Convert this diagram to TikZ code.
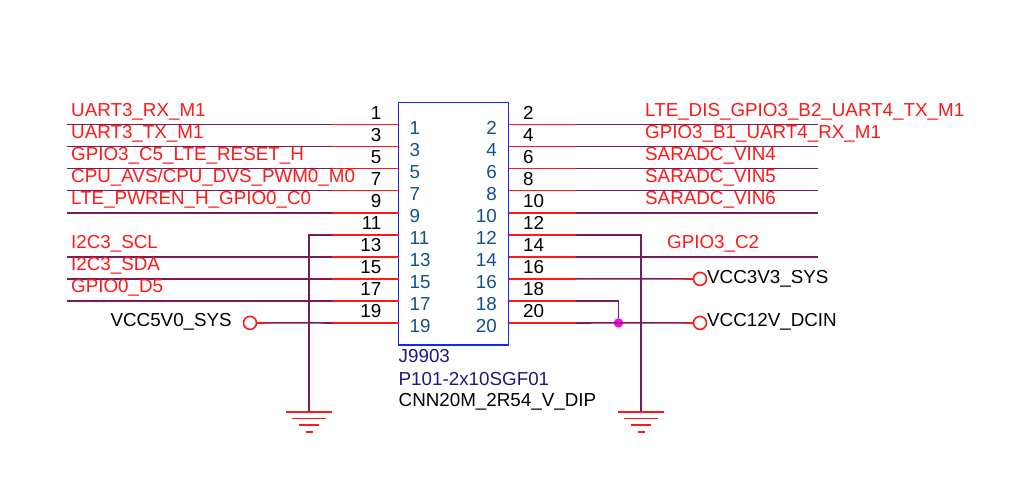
\documentclass[tikz,border=0pt]{standalone}
\usepackage{fontspec}
\setmainfont{Liberation Sans}
\usepackage{tikz}
\definecolor{pinred}{HTML}{FF1818}
\definecolor{netpurple}{HTML}{7A1A5A}
\definecolor{boxblue}{HTML}{1028F8}
\definecolor{numblue}{HTML}{10508C}
\definecolor{refblue}{HTML}{1A1A80}
\definecolor{dotmagenta}{HTML}{FF00F0}
\tikzstyle{connbox} = [rectangle, draw=boxblue, line width=1.6pt, minimum width=110pt, minimum height=242.5pt, inner sep=0pt]
\tikzstyle{pinwire} = [draw=pinred, line width=1.6pt]
\tikzstyle{netwire} = [draw=netpurple, line width=1.6pt]
\tikzstyle{txt} = [inner sep=0pt, font=\fontsize{18.8pt}{20pt}\selectfont]
\tikzstyle{netleft} = [txt, text=pinred, anchor=base west, xshift=4.5pt, yshift=8.3pt]
\tikzstyle{netright} = [txt, text=pinred, anchor=base west, xshift=-173pt, yshift=8.3pt]
\tikzstyle{outleft} = [txt, anchor=base east, xshift=-17pt, yshift=5.3pt]
\tikzstyle{outright} = [txt, anchor=base west, xshift=14.5pt, yshift=5.3pt]
\tikzstyle{inleft} = [txt, text=numblue, anchor=base west, xshift=11pt, yshift=-10pt]
\tikzstyle{inright} = [txt, text=numblue, anchor=base east, xshift=-11.5pt, yshift=-10pt]
\tikzstyle{midleft} = [xshift=-66.5pt]
\tikzstyle{farleft} = [xshift=-332pt]
\tikzstyle{midright} = [xshift=67.5pt]
\tikzstyle{farright} = [xshift=309.5pt]
\tikzstyle{opencircle} = [circle, draw=pinred, line width=1.6pt, minimum size=13pt, inner sep=0pt]
\tikzstyle{junction} = [circle, fill=dotmagenta, minimum size=9.5pt, inner sep=0pt]
\begin{document}
\begin{tikzpicture}[x=1pt, y=-1pt, node distance=22.05pt]
    \useasboundingbox (0,0) rectangle (1020,488);
    \node (conn) [connbox] at (453.5,223.75) {};
    % left pins
    \coordinate (pin1) at (398.5,124.5);
    \coordinate [below of = pin1] (pin3);
    \coordinate [below of = pin3] (pin5);
    \coordinate [below of = pin5] (pin7);
    \coordinate [below of = pin7] (pin9);
    \coordinate [below of = pin9] (pin11);
    \coordinate [below of = pin11] (pin13);
    \coordinate [below of = pin13] (pin15);
    \coordinate [below of = pin15] (pin17);
    \coordinate [below of = pin17] (pin19);
    % right pins
    \coordinate (pin2) at (508.5,124.5);
    \coordinate [below of = pin2] (pin4);
    \coordinate [below of = pin4] (pin6);
    \coordinate [below of = pin6] (pin8);
    \coordinate [below of = pin8] (pin10);
    \coordinate [below of = pin10] (pin12);
    \coordinate [below of = pin12] (pin14);
    \coordinate [below of = pin14] (pin16);
    \coordinate [below of = pin16] (pin18);
    \coordinate [below of = pin18] (pin20);
    % wire break points
    \coordinate [midleft] (mid1) at (pin1);
    \coordinate [midleft] (mid3) at (pin3);
    \coordinate [midleft] (mid5) at (pin5);
    \coordinate [midleft] (mid7) at (pin7);
    \coordinate [midleft] (mid9) at (pin9);
    \coordinate [midleft] (mid11) at (pin11);
    \coordinate [midleft] (mid13) at (pin13);
    \coordinate [midleft] (mid15) at (pin15);
    \coordinate [midleft] (mid17) at (pin17);
    \coordinate [midleft] (mid19) at (pin19);
    \coordinate [midright] (mid2) at (pin2);
    \coordinate [midright] (mid4) at (pin4);
    \coordinate [midright] (mid6) at (pin6);
    \coordinate [midright] (mid8) at (pin8);
    \coordinate [midright] (mid10) at (pin10);
    \coordinate [midright] (mid12) at (pin12);
    \coordinate [midright] (mid14) at (pin14);
    \coordinate [midright] (mid16) at (pin16);
    \coordinate [midright] (mid18) at (pin18);
    \coordinate [midright] (mid20) at (pin20);
    \coordinate [farleft] (far1) at (pin1);
    \coordinate [farleft] (far3) at (pin3);
    \coordinate [farleft] (far5) at (pin5);
    \coordinate [farleft] (far7) at (pin7);
    \coordinate [farleft] (far9) at (pin9);
    \coordinate [farleft] (far13) at (pin13);
    \coordinate [farleft] (far15) at (pin15);
    \coordinate [farleft] (far17) at (pin17);
    \coordinate [farright] (far2) at (pin2);
    \coordinate [farright] (far4) at (pin4);
    \coordinate [farright] (far6) at (pin6);
    \coordinate [farright] (far8) at (pin8);
    \coordinate [farright] (far10) at (pin10);
    \coordinate [farright] (far14) at (pin14);
    % power and ground
    \node (vcc5) [opencircle] at (250,322.9) {};
    \node (vcc3) [opencircle] at (700,278.9) {};
    \node (vcc12) [opencircle] at (700,322.9) {};
    \node (dot) [junction, xshift=110pt] at (pin20) {};
    \coordinate (stub5) at (267,322.9);
    \coordinate (stub3) at (685,278.9);
    \coordinate (stub12) at (685,322.9);
    \coordinate (gndleft) at (309,412);
    \coordinate (gndright) at (641,412);
    % purple nets
    \draw [netwire] (mid1) -- (far1);
    \draw [netwire] (mid3) -- (far3);
    \draw [netwire] (mid5) -- (far5);
    \draw [netwire] (mid7) -- (far7);
    \draw [netwire] (mid9) -- (far9);
    \draw [netwire] (mid13) -- (far13);
    \draw [netwire] (mid15) -- (far15);
    \draw [netwire] (mid17) -- (far17);
    \draw [netwire] (mid19) -- (stub5);
    \draw [netwire] (mid11) -| (gndleft);
    \draw [netwire] (mid2) -- (far2);
    \draw [netwire] (mid4) -- (far4);
    \draw [netwire] (mid6) -- (far6);
    \draw [netwire] (mid8) -- (far8);
    \draw [netwire] (mid10) -- (far10);
    \draw [netwire] (mid14) -- (far14);
    \draw [netwire] (mid16) -- (stub3);
    \draw [netwire] (mid20) -- (stub12);
    \draw [netwire] (mid12) -| (gndright);
    \draw [netwire] (mid18) -| (dot);
    % red pin stubs
    \draw [pinwire] (pin1) -- (mid1);
    \draw [pinwire] (pin3) -- (mid3);
    \draw [pinwire] (pin5) -- (mid5);
    \draw [pinwire] (pin7) -- (mid7);
    \draw [pinwire] (pin9) -- (mid9);
    \draw [pinwire] (pin11) -- (mid11);
    \draw [pinwire] (pin13) -- (mid13);
    \draw [pinwire] (pin15) -- (mid15);
    \draw [pinwire] (pin17) -- (mid17);
    \draw [pinwire] (pin19) -- (mid19);
    \draw [pinwire] (pin2) -- (mid2);
    \draw [pinwire] (pin4) -- (mid4);
    \draw [pinwire] (pin6) -- (mid6);
    \draw [pinwire] (pin8) -- (mid8);
    \draw [pinwire] (pin10) -- (mid10);
    \draw [pinwire] (pin12) -- (mid12);
    \draw [pinwire] (pin14) -- (mid14);
    \draw [pinwire] (pin16) -- (mid16);
    \draw [pinwire] (pin18) -- (mid18);
    \draw [pinwire] (pin20) -- (mid20);
    \draw [pinwire] (vcc5.east) -- (stub5);
    \draw [pinwire] (stub3) -- (vcc3.west);
    \draw [pinwire] (stub12) -- (vcc12.west);
    % ground symbols
    \draw [pinwire] ([xshift=-23pt]gndleft) -- ([xshift=23pt]gndleft);
    \draw [pinwire] ([xshift=-17pt,yshift=-6.5pt]gndleft) -- ([xshift=17pt,yshift=-6.5pt]gndleft);
    \draw [pinwire] ([xshift=-10pt,yshift=-13pt]gndleft) -- ([xshift=10pt,yshift=-13pt]gndleft);
    \draw [pinwire] ([xshift=-3.5pt,yshift=-20pt]gndleft) -- ([xshift=3.5pt,yshift=-20pt]gndleft);
    \draw [pinwire] ([xshift=-23pt]gndright) -- ([xshift=23pt]gndright);
    \draw [pinwire] ([xshift=-17pt,yshift=-6.5pt]gndright) -- ([xshift=17pt,yshift=-6.5pt]gndright);
    \draw [pinwire] ([xshift=-10pt,yshift=-13pt]gndright) -- ([xshift=10pt,yshift=-13pt]gndright);
    \draw [pinwire] ([xshift=-3.5pt,yshift=-20pt]gndright) -- ([xshift=3.5pt,yshift=-20pt]gndright);
    % pin numbers outside the box
    \node (out1) [outleft] at (pin1) {1};
    \node (out3) [outleft] at (pin3) {3};
    \node (out5) [outleft] at (pin5) {5};
    \node (out7) [outleft] at (pin7) {7};
    \node (out9) [outleft] at (pin9) {9};
    \node (out11) [outleft] at (pin11) {11};
    \node (out13) [outleft] at (pin13) {13};
    \node (out15) [outleft] at (pin15) {15};
    \node (out17) [outleft] at (pin17) {17};
    \node (out19) [outleft] at (pin19) {19};
    \node (out2) [outright] at (pin2) {2};
    \node (out4) [outright] at (pin4) {4};
    \node (out6) [outright] at (pin6) {6};
    \node (out8) [outright] at (pin8) {8};
    \node (out10) [outright] at (pin10) {10};
    \node (out12) [outright] at (pin12) {12};
    \node (out14) [outright] at (pin14) {14};
    \node (out16) [outright] at (pin16) {16};
    \node (out18) [outright] at (pin18) {18};
    \node (out20) [outright] at (pin20) {20};
    % pin numbers inside the box
    \node (in1) [inleft] at (pin1) {1};
    \node (in3) [inleft] at (pin3) {3};
    \node (in5) [inleft] at (pin5) {5};
    \node (in7) [inleft] at (pin7) {7};
    \node (in9) [inleft] at (pin9) {9};
    \node (in11) [inleft] at (pin11) {11};
    \node (in13) [inleft] at (pin13) {13};
    \node (in15) [inleft] at (pin15) {15};
    \node (in17) [inleft] at (pin17) {17};
    \node (in19) [inleft] at (pin19) {19};
    \node (in2) [inright] at (pin2) {2};
    \node (in4) [inright] at (pin4) {4};
    \node (in6) [inright] at (pin6) {6};
    \node (in8) [inright] at (pin8) {8};
    \node (in10) [inright] at (pin10) {10};
    \node (in12) [inright] at (pin12) {12};
    \node (in14) [inright] at (pin14) {14};
    \node (in16) [inright] at (pin16) {16};
    \node (in18) [inright] at (pin18) {18};
    \node (in20) [inright] at (pin20) {20};
    % net names
    \node (net1) [netleft] at (far1) {UART3\_RX\_M1};
    \node (net3) [netleft] at (far3) {UART3\_TX\_M1};
    \node (net5) [netleft] at (far5) {GPIO3\_C5\_LTE\_RESET\_H};
    \node (net7) [netleft] at (far7) {CPU\_AVS/CPU\_DVS\_PWM0\_M0};
    \node (net9) [netleft] at (far9) {LTE\_PWREN\_H\_GPIO0\_C0};
    \node (net13) [netleft] at (far13) {I2C3\_SCL};
    \node (net15) [netleft] at (far15) {I2C3\_SDA};
    \node (net17) [netleft] at (far17) {GPIO0\_D5};
    \node (net2) [netright] at (far2) {LTE\_DIS\_GPIO3\_B2\_UART4\_TX\_M1};
    \node (net4) [netright] at (far4) {GPIO3\_B1\_UART4\_RX\_M1};
    \node (net6) [netright] at (far6) {SARADC\_VIN4};
    \node (net8) [netright] at (far8) {SARADC\_VIN5};
    \node (net10) [netright] at (far10) {SARADC\_VIN6};
    \node (net14) [netright, xshift=22pt] at (far14) {GPIO3\_C2};
    \node (lblvcc5) [txt, anchor=base east] at (232,326.7) {VCC5V0\_SYS};
    \node (lblvcc3) [txt, anchor=base west] at (707,283.3) {VCC3V3\_SYS};
    \node (lblvcc12) [txt, anchor=base west] at (707,326.7) {VCC12V\_DCIN};
    % part text
    \node (refdes) [txt, text=refblue, anchor=base west] at (398.5,362.7) {J9903};
    \node (partno) [txt, text=refblue, anchor=base west] at (398.5,385) {P101-2x10SGF01};
    \node (footprint) [txt, anchor=base west] at (398.5,406.7) {CNN20M\_2R54\_V\_DIP};
\end{tikzpicture}
\end{document}
